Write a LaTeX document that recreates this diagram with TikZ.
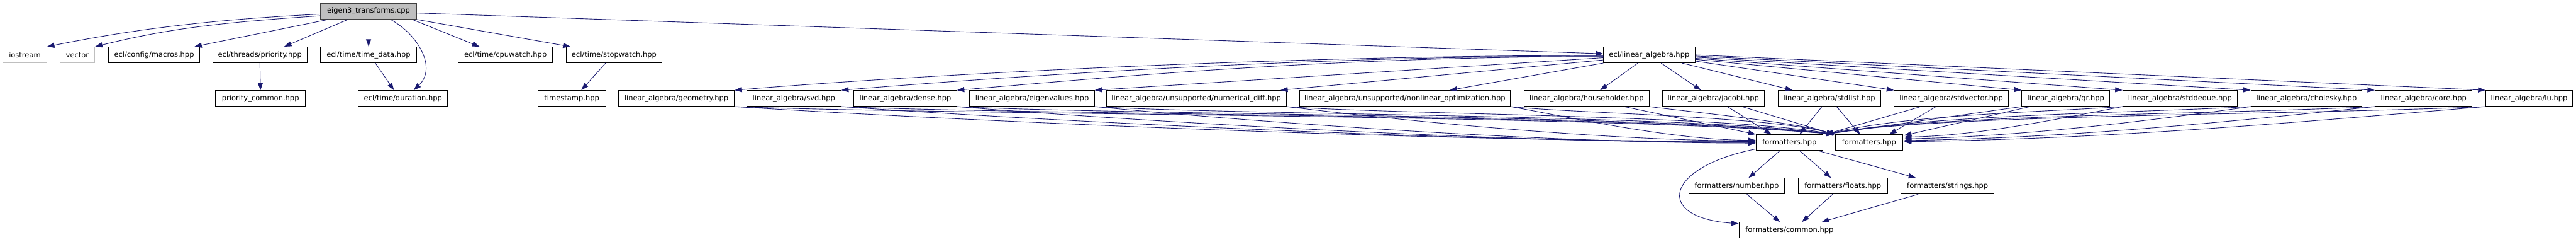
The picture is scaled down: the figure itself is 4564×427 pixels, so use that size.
\documentclass[tikz,border=0pt]{standalone}
\usepackage{fontspec}
\setmainfont{DejaVu Sans}
\usetikzlibrary{arrows.meta}
\definecolor{incblue}{HTML}{191970}
\definecolor{boxgray}{HTML}{BFBFBF}
\definecolor{rimgray}{HTML}{404040}

\begin{document}
\begin{tikzpicture}[x=1pt,y=-1pt,
  hfile/.style={draw=black,line width=1pt,minimum height=28pt,inner xsep=0pt,inner ysep=0pt,font=\fontsize{12.8pt}{15pt}\selectfont},
  sysfile/.style={hfile,draw=boxgray},
  mainfile/.style={hfile,draw=rimgray,fill=boxgray},
  inc/.style={draw=incblue,line width=1pt,-{Triangle[length=13pt,width=9pt]}}]
\useasboundingbox (0,0) rectangle (4564,427);
\fill[white] (0,0) rectangle (4564,427);

\node[mainfile,minimum width=170pt] (src) at (653,20) {eigen3\_transforms.cpp};

\node[sysfile,minimum width=78pt] (ios) at (44,97) {iostream};
\node[sysfile,minimum width=62pt] (vec) at (137,97) {vector};
\node[hfile,minimum width=162pt] (mac) at (273,97) {ecl/config/macros.hpp};
\node[hfile,minimum width=167pt] (pri) at (460.5,97) {ecl/threads/priority.hpp};
\node[hfile,minimum width=170pt] (td) at (653,97) {ecl/time/time\_data.hpp};
\node[hfile,minimum width=167pt] (cpu) at (895.5,97) {ecl/time/cpuwatch.hpp};
\node[hfile,minimum width=170pt] (sw) at (1088,97) {ecl/time/stopwatch.hpp};
\node[hfile,minimum width=162pt] (la) at (2922,97) {ecl/linear\_algebra.hpp};

\node[hfile,minimum width=159pt] (pc) at (461.5,174) {priority\_common.hpp};
\node[hfile,minimum width=158pt] (dur) at (714,174) {ecl/time/duration.hpp};
\node[hfile,minimum width=120pt] (ts) at (1013,174) {timestamp.hpp};
\node[hfile,minimum width=205pt] (geo) at (1198.5,174) {linear\_algebra/geometry.hpp};
\node[hfile,minimum width=167pt] (svd) at (1406.5,174) {linear\_algebra/svd.hpp};
\node[hfile,minimum width=182pt] (den) at (1604,174) {linear\_algebra/dense.hpp};
\node[hfile,minimum width=221pt] (eig) at (1828.5,174) {linear\_algebra/eigenvalues.hpp};
\node[hfile,minimum width=319pt] (nd) at (2119.5,174) {linear\_algebra/unsupported/numerical\_diff.hpp};
\node[hfile,minimum width=374pt] (nlo) at (2489,174) {linear\_algebra/unsupported/nonlinear\_optimization.hpp};
\node[hfile,minimum width=222pt] (hh) at (2811,174) {linear\_algebra/householder.hpp};
\node[hfile,minimum width=181pt] (jac) at (3035.5,174) {linear\_algebra/jacobi.hpp};
\node[hfile,minimum width=182pt] (sl) at (3241,174) {linear\_algebra/stdlist.hpp};
\node[hfile,minimum width=202pt] (sv) at (3457,174) {linear\_algebra/stdvector.hpp};
\node[hfile,minimum width=156pt] (qr) at (3660,174) {linear\_algebra/qr.hpp};
\node[hfile,minimum width=203pt] (sdq) at (3862.5,174) {linear\_algebra/stddeque.hpp};
\node[hfile,minimum width=197pt] (cho) at (4086.5,174) {linear\_algebra/cholesky.hpp};
\node[hfile,minimum width=172pt] (core) at (4294,174) {linear\_algebra/core.hpp};
\node[hfile,minimum width=154pt] (lu) at (4481,174) {linear\_algebra/lu.hpp};

\node[hfile,minimum width=119pt] (f1) at (3170.5,252) {formatters.hpp};
\node[hfile,minimum width=119pt] (f2) at (3311.5,252) {formatters.hpp};

\node[hfile,minimum width=170pt] (num) at (3077,329) {formatters/number.hpp};
\node[hfile,minimum width=158pt] (flt) at (3265,329) {formatters/floats.hpp};
\node[hfile,minimum width=165pt] (str) at (3450.5,329) {formatters/strings.hpp};

\node[hfile,minimum width=179pt] (com) at (3170.5,407) {formatters/common.hpp};

\draw[inc] ([yshift=-5pt]src.west) .. controls +(-200,10) and +(150,-30) .. (ios.north east);
\draw[inc] ([yshift=-8pt]src.west) .. controls +(-180,12) and +(130,-32) .. (vec.north east);
\draw[inc] ([xshift=14pt]src.south west) -- ([xshift=-10pt]mac.north east);
\draw[inc] ([xshift=49pt]src.south west) -- ([xshift=-41pt]pri.north east);
\draw[inc] (src.south) -- (td.north);
\draw[inc] ([xshift=39pt]src.south) .. controls +(48,26) and +(42,-40) .. ([xshift=19pt]dur.north);
\draw[inc] ([xshift=-8pt]src.south east) -- ([xshift=-46pt]cpu.north);
\draw[inc] (src.south east) -- ([xshift=8pt]sw.north west);
\draw[inc] ([yshift=-3pt]src.east) -- ([yshift=2pt]la.west);

\draw[inc] (pri.south) -- (pc.north);
\draw[inc] ([xshift=12pt]td.south) -- ([xshift=-16pt]dur.north);
\draw[inc] ([xshift=-15pt]sw.south) -- ([xshift=17pt]ts.north);

\draw[inc] ([yshift=-1pt]la.west) .. controls +(-600,0) and +(300,-25) .. (geo.north east);
\draw[inc] ([yshift=-2pt]la.west) .. controls +(-550,0) and +(270,-22) .. (svd.north east);
\draw[inc] ([yshift=-3pt]la.west) .. controls +(-500,0) and +(243,-20) .. (den.north east);
\draw[inc] ([yshift=-5pt]la.west) -- (eig.north east);
\draw[inc] ([yshift=-9pt]la.west) -- ([xshift=-11pt]nd.north east);
\draw[inc] (la.south west) -- ([xshift=-108pt]nlo.north east);
\draw[inc] ([xshift=-20pt]la.south) -- ([xshift=24pt]hh.north);
\draw[inc] ([xshift=21pt]la.south) -- ([xshift=-22pt]jac.north);
\draw[inc] ([xshift=58pt]la.south) -- ([xshift=-65pt]sl.north);
\draw[inc] ([yshift=-11pt]la.east) -- (sv.north west);
\draw[inc] ([yshift=-8pt]la.east) -- (qr.north west);
\draw[inc] ([yshift=-6pt]la.east) -- (sdq.north west);
\draw[inc] ([yshift=-4pt]la.east) -- (cho.north west);
\draw[inc] ([yshift=-2pt]la.east) -- (core.north west);
\draw[inc] (la.east) -- (lu.north west);

\draw[inc] (geo.south east) .. controls +(400,25) and +(-600,0) .. ([yshift=2pt]f1.west);
\draw[inc] (svd.south east) .. controls +(360,25) and +(-535,0) .. ([yshift=1pt]f1.west);
\draw[inc] (den.south east) .. controls +(310,25) and +(-470,0) .. (f1.west);
\draw[inc] (eig.south east) .. controls +(260,25) and +(-390,0) .. ([yshift=-1pt]f1.west);
\draw[inc] (nd.south east) .. controls +(180,22) and +(-275,0) .. ([yshift=3pt]f1.west);
\draw[inc] (nlo.south east) .. controls +(100,18) and +(-145,0) .. ([yshift=4pt]f1.west);
\draw[inc] ([xshift=-45pt]hh.south east) -- (f1.north west);
\draw[inc] ([xshift=25pt]jac.south) -- ([xshift=-32pt]f1.north);
\draw[inc] ([xshift=-13pt]sl.south) -- ([xshift=18pt]f1.north);
\draw[inc] ([xshift=-54pt]sv.south) -- ([xshift=4pt]f1.north east);
\draw[inc] (qr.south west) -- ([xshift=4pt]f1.north east);
\draw[inc] (sdq.south west) .. controls +(-150,10) and +(150,-35) .. ([xshift=4pt]f1.north east);
\draw[inc] (cho.south west) .. controls +(-230,12) and +(200,-35) .. ([xshift=4pt]f1.north east);
\draw[inc] (core.south west) .. controls +(-290,14) and +(200,-35) .. ([xshift=4pt]f1.north east);
\draw[inc] (lu.south west) .. controls +(-350,15) and +(200,-35) .. ([xshift=4pt]f1.north east);

\draw[inc] (geo.south east) .. controls +(390,15) and +(-390,-35) .. ([xshift=-2pt]f2.north west);
\draw[inc] (svd.south east) .. controls +(350,15) and +(-350,-35) .. ([xshift=-2pt]f2.north west);
\draw[inc] (den.south east) .. controls +(310,15) and +(-310,-35) .. ([xshift=-2pt]f2.north west);
\draw[inc] (eig.south east) .. controls +(260,15) and +(-260,-35) .. ([xshift=-2pt]f2.north west);
\draw[inc] (nd.south east) .. controls +(195,14) and +(-195,-34) .. ([xshift=-2pt]f2.north west);
\draw[inc] (nlo.south east) .. controls +(115,12) and +(-115,-32) .. ([xshift=-2pt]f2.north west);
\draw[inc] (hh.south east) .. controls +(60,8) and +(-70,-22) .. ([xshift=-2pt]f2.north west);
\draw[inc] ([xshift=51pt]jac.south) -- ([xshift=-2pt]f2.north west);
\draw[inc] ([xshift=13pt]sl.south) -- ([xshift=-16pt]f2.north);
\draw[inc] ([xshift=-27pt]sv.south) -- ([xshift=36pt]f2.north);
\draw[inc] ([xshift=15pt]qr.south west) -- ([xshift=2pt,yshift=-2pt]f2.north east);
\draw[inc] (sdq.south west) .. controls +(-130,25) and +(130,-3) .. ([xshift=2pt,yshift=-5pt]f2.north east);
\draw[inc] (cho.south west) .. controls +(-200,28) and +(200,-4) .. ([xshift=2pt,yshift=-8pt]f2.north east);
\draw[inc] (core.south west) .. controls +(-290,30) and +(290,-5) .. ([xshift=2pt,yshift=-11pt]f2.north east);
\draw[inc] (lu.south west) .. controls +(-360,30) and +(360,-5) .. ([xshift=2pt,yshift=-13pt]f2.north east);

\draw[inc] ([xshift=-17pt]f1.south) -- ([xshift=21pt]num.north);
\draw[inc] ([xshift=18pt]f1.south) -- ([xshift=-21pt]flt.north);
\draw[inc] ([xshift=-9pt]f1.south east) -- ([xshift=-56pt]str.north);
\draw[inc] ([yshift=3pt]f1.south west) .. controls +(-161,32) and +(-151,-11) .. ([yshift=-3pt]com.north west);
\draw[inc] ([xshift=18pt]num.south) -- ([xshift=-17pt]com.north);
\draw[inc] ([xshift=-18pt]flt.south) -- ([xshift=22pt]com.north);
\draw[inc] ([xshift=-52pt]str.south) -- ([xshift=57pt]com.north);
\end{tikzpicture}
\end{document}
